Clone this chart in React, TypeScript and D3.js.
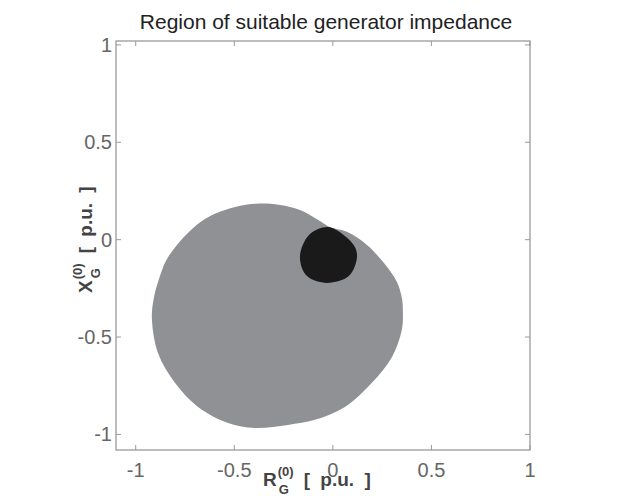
import * as d3 from "d3";
import { useEffect, useRef } from "react";

const title = "Region of suitable generator impedance";

// axis ticks (p.u.)
const xTicks = [-1, -0.5, 0, 0.5, 1];
const xTickLabels = ["-1", "-0.5", "0", "0.5", "1"];
const yTicks = [-1, -0.5, 0, 0.5, 1];
const yTickLabels = ["-1", "-0.5", "0", "0.5", "1"];

// outline of the suitable region (gray)
const suitableR = [-0.476, -0.385, -0.268, -0.167, -0.05, -0.015, 0.071, 0.173, 0.254, 0.325, 0.35, 0.355, 0.35, 0.3, 0.198, 0.061, -0.091, -0.228, -0.395, -0.532, -0.684, -0.801, -0.887, -0.918, -0.908, -0.882, -0.847, -0.791, -0.725, -0.649, -0.563];
const suitableX = [0.173, 0.185, 0.178, 0.152, 0.086, 0.065, 0.04, -0.027, -0.114, -0.217, -0.299, -0.36, -0.463, -0.602, -0.735, -0.859, -0.925, -0.951, -0.967, -0.941, -0.859, -0.735, -0.582, -0.402, -0.299, -0.202, -0.109, -0.027, 0.045, 0.106, 0.147];

// outline of the dark region
const coreR = [-0.167, -0.121, -0.025, 0.061, 0.112, 0.122, 0.081, -0.03, -0.131];
const coreX = [-0.089, 0.024, 0.065, 0.019, -0.038, -0.094, -0.187, -0.222, -0.187];

const W = 623;
const H = 502;
const font = "'Liberation Sans', Arial, sans-serif";

export default function App() {
  const ref = useRef<SVGSVGElement>(null);

  useEffect(() => {
    const svg = d3.select(ref.current);
    svg.selectAll("*").remove();

    const left = 116, right = 530, top = 41, bottom = 450;
    const x = d3.scaleLinear().domain([-1.1, 1.0]).range([left, right]);
    const y = d3.scaleLinear().domain([-1.08, 1.02]).range([bottom, top]);

    svg.append("rect").attr("width", W).attr("height", H).attr("fill", "#fff");

    // title
    svg.append("text")
      .attr("x", 326).attr("y", 29)
      .attr("text-anchor", "middle")
      .attr("font-family", font).attr("font-size", 21)
      .attr("fill", "#222")
      .text(title);

    const line = d3.line<[number, number]>()
      .x(d => x(d[0]))
      .y(d => y(d[1]))
      .curve(d3.curveCatmullRomClosed.alpha(0.5));

    const suitable = suitableR.map((r, i) => [r, suitableX[i]] as [number, number]);
    const core = coreR.map((r, i) => [r, coreX[i]] as [number, number]);

    svg.append("path").attr("d", line(suitable)).attr("fill", "#909195");
    svg.append("path").attr("d", line(core)).attr("fill", "#1b1a1b");

    // frame
    svg.append("rect")
      .attr("x", left).attr("y", top)
      .attr("width", right - left).attr("height", bottom - top)
      .attr("fill", "none").attr("stroke", "#9a9a9a").attr("stroke-width", 1.3);

    // ticks, inside, on all four sides
    const tk = 5;
    const ticks = svg.append("g").attr("stroke", "#9a9a9a").attr("stroke-width", 1);
    xTicks.forEach(v => {
      ticks.append("line").attr("x1", x(v)).attr("x2", x(v)).attr("y1", bottom).attr("y2", bottom - tk);
      ticks.append("line").attr("x1", x(v)).attr("x2", x(v)).attr("y1", top).attr("y2", top + tk);
    });
    yTicks.forEach(v => {
      ticks.append("line").attr("y1", y(v)).attr("y2", y(v)).attr("x1", left).attr("x2", left + tk);
      ticks.append("line").attr("y1", y(v)).attr("y2", y(v)).attr("x1", right).attr("x2", right - tk);
    });

    // tick labels
    svg.append("g")
      .selectAll("text")
      .data(xTicks)
      .join("text")
      .attr("x", d => x(d))
      .attr("y", 477)
      .attr("text-anchor", "middle")
      .attr("font-family", font).attr("font-size", 20)
      .attr("fill", "#666")
      .text((d, i) => xTickLabels[i]);

    svg.append("g")
      .selectAll("text")
      .data(yTicks)
      .join("text")
      .attr("x", 112)
      .attr("y", d => y(d) + 7)
      .attr("text-anchor", "end")
      .attr("font-family", font).attr("font-size", 20)
      .attr("fill", "#666")
      .text((d, i) => yTickLabels[i]);

    // axis labels with sub/superscripts
    const axisLabel = (main: string, tx: number, ty: number, rot: number) => {
      const g = svg.append("g")
        .attr("transform", `translate(${tx},${ty}) rotate(${rot})`)
        .attr("font-family", font).attr("font-weight", "bold").attr("fill", "#444");
      const m = g.append("text").attr("font-size", 19).text(main);
      const w = (m.node() as SVGTextElement).getComputedTextLength();
      g.append("text").attr("x", w + 1).attr("y", -10).attr("font-size", 13).text("(0)");
      g.append("text").attr("x", w + 2).attr("y", 8).attr("font-size", 13).text("G");
      g.append("text").attr("x", w + 27).attr("font-size", 19).attr("word-spacing", 5).text("[ p.u. ]");
    };
    axisLabel("R", 263, 486, 0);
    axisLabel("X", 92, 293, -90);
  }, []);

  return (
    <svg
      ref={ref}
      width={W}
      height={H}
      style={{ position: "fixed", left: 0, top: 0, display: "block" }}
    />
  );
}
